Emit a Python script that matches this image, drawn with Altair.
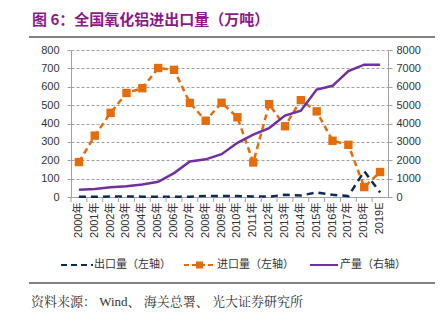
import altair as alt
import pandas as pd

years = ["2000年", "2001年", "2002年", "2003年", "2004年", "2005年", "2006年", "2007年",
         "2008年", "2009年", "2010年", "2011年", "2012年", "2013年", "2014年", "2015年",
         "2016年", "2017年", "2018年", "2019E"]
export_vals = [1, 1, 3, 3, 2, 1, 1, 2, 5, 5, 5, 3, 2, 12, 8, 25, 12, 5, 140, 25]
import_vals = [190, 334, 458, 566, 592, 702, 692, 512, 415, 513, 434, 188,
               505, 385, 527, 466, 306, 284, 54, 136]
prod_vals = [400, 440, 530, 580, 680, 830, 1300, 1935, 2050, 2330, 2950, 3400,
             3750, 4430, 4700, 5850, 6050, 6850, 7200, 7200]

left_ticks = [0, 100, 200, 300, 400, 500, 600, 700, 800]
right_ticks = [0, 1000, 2000, 3000, 4000, 5000, 6000, 7000, 8000]

title_text = "图 6：全国氧化铝进出口量（万吨）"
legend_labels = ["出口量（左轴）", "进口量（左轴）", "产量（右轴）"]
source_text = "资料来源： Wind、 海关总署、 光大证券研究所"

C_EXP = "#0E2A5C"
C_IMP = "#E46C0A"
C_PROD = "#7030A0"
C_TITLE = "#8B1A89"

df = pd.DataFrame({"year": years, "exp": export_vals, "imp": import_vals, "prod": prod_vals})

LF = "Liberation Sans"
CJK = "Noto Sans CJK SC"

xenc = alt.X("year:N", sort=years, scale=alt.Scale(paddingInner=0, paddingOuter=0),
             axis=alt.Axis(title=None, labelAngle=-90, labelFontSize=11, labelFont=LF + ", " + CJK,
                           labelColor="#333333", ticks=False, domainColor="#A0A0A0",
                           labelPadding=5, labelBaseline="middle", labelAlign="right"))

left_axis = alt.Axis(title=None, orient="left", values=left_ticks, labelFontSize=11,
                     labelFont=LF, labelColor="#333333", grid=True, gridColor="#A0A0A0",
                     gridDash=[3, 2], domainColor="#A0A0A0", tickColor="#A0A0A0",
                     tickSize=4, labelPadding=8, labelOverlap=False, format="d")
left_scale = alt.Scale(domain=[0, 800], nice=False)

base = alt.Chart(df).encode(x=xenc)

exp_line = base.mark_line(color=C_EXP, strokeWidth=2.5, strokeDash=[7, 5]).encode(
    y=alt.Y("exp:Q", scale=left_scale, axis=left_axis))
imp_line = base.mark_line(color=C_IMP, strokeWidth=2.5, strokeDash=[6, 4]).encode(
    y=alt.Y("imp:Q", scale=left_scale, axis=left_axis))
imp_pts = base.mark_square(color=C_IMP, size=70, opacity=1, filled=True).encode(
    y=alt.Y("imp:Q", scale=left_scale, axis=left_axis))
left = alt.layer(exp_line, imp_line, imp_pts)

prod_line = base.mark_line(color=C_PROD, strokeWidth=2.5).encode(
    y=alt.Y("prod:Q", scale=alt.Scale(domain=[0, 8000], nice=False),
            axis=alt.Axis(title=None, orient="right", values=right_ticks, labelFontSize=11,
                          labelFont=LF, labelColor="#333333", grid=False, format="d",
                          labelOverlap=False,
                          domainColor="#A0A0A0", tickColor="#A0A0A0", tickSize=4, labelPadding=4)))

xticks = base.mark_rule(color="#A0A0A0").encode(
    x=alt.X("year:N", sort=years, bandPosition=0), y=alt.value(147), y2=alt.value(152))

one = pd.DataFrame({"a": [0]})

def txt(t, x, y, size, color, font, weight="normal"):
    return alt.Chart(one).mark_text(text=t, align="left", baseline="middle", fontSize=size,
                                    color=color, font=font, fontWeight=weight).encode(
        x=alt.value(x), y=alt.value(y))

def hline(x1, x2, y, color, width, dash=None):
    kw = dict(color=color, strokeWidth=width)
    if dash:
        kw["strokeDash"] = dash
    return alt.Chart(one).mark_rule(**kw).encode(x=alt.value(x1), x2=alt.value(x2), y=alt.value(y))

title = txt(title_text, -39, -30, 15, C_TITLE, "Noto Sans CJK SC", "bold")
tline = hline(-42, 364, -13, "#595959", 1.5)

ly = 215
leg = [
    hline(-10, 22, ly, C_EXP, 2, [6, 4]),
    txt(legend_labels[0], 23, ly, 11, "#333333", CJK),
    hline(113, 144, ly, C_IMP, 2, [5, 3]),
    alt.Chart(one).mark_square(color=C_IMP, size=50, opacity=1).encode(x=alt.value(128.5), y=alt.value(ly)),
    txt(legend_labels[1], 146, ly, 11, "#333333", CJK),
    hline(239, 267, ly, C_PROD, 2),
    txt(legend_labels[2], 269, ly, 11, "#333333", CJK),
]
fline = hline(-42, 364, 233, "#595959", 1.5)
src = txt(source_text, -40, 252, 13, "#333333", "Liberation Serif, Noto Serif CJK SC, Noto Sans CJK SC")

chart = alt.layer(left, prod_line, xticks, title, tline, *leg, fline, src).resolve_scale(
    y="independent").properties(
    width=317, height=147,
    autosize=alt.AutoSizeParams(type="none"),
    padding={"left": 71, "top": 50, "right": 58, "bottom": 127},
    background="white",
).configure_view(stroke=None)

chart.save("out.html", embed_options={"renderer": "svg", "actions": False})
